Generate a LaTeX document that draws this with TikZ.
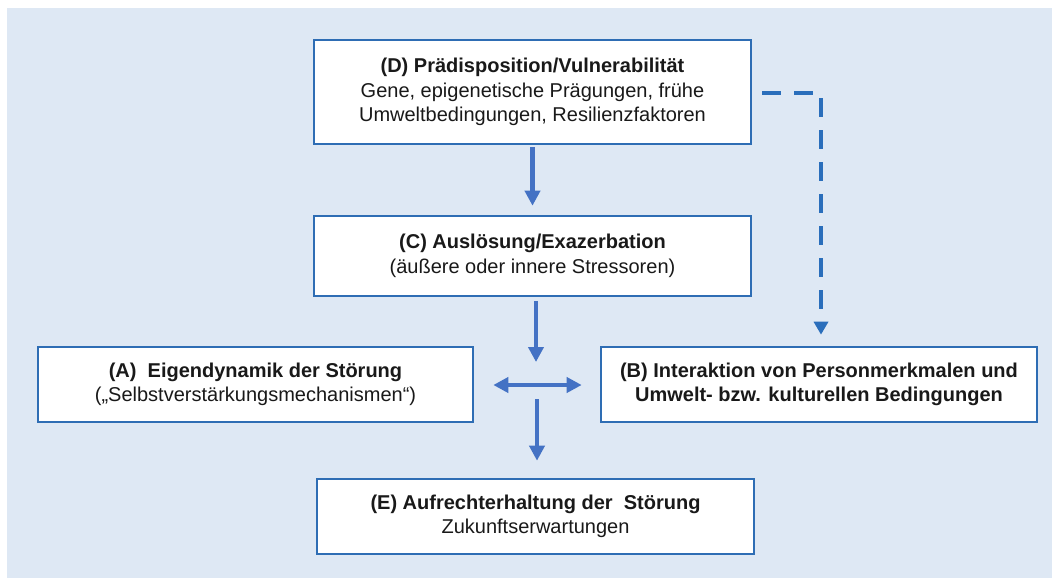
\documentclass[tikz,border=0pt]{standalone}
\usepackage{fontspec}
\setmainfont{Liberation Sans}
\usetikzlibrary{arrows.meta,calc}
\definecolor{bgblue}{HTML}{DEE8F4}
\definecolor{boxblue}{HTML}{2E6DB4}
\definecolor{arrblue}{HTML}{4472C4}
\definecolor{dashblue}{HTML}{2A6EBB}
\begin{document}
\begin{tikzpicture}[x=1pt,y=-1pt,
  box/.style={draw=boxblue,line width=2.6pt,fill=white,inner sep=0pt,
    align=center,font=\fontsize{20}{24.5}\selectfont,text=black!90},
  arr/.style={draw=arrblue,line width=4.8pt,-{Triangle[width=15pt,length=15pt]}},
  dblarr/.style={draw=arrblue,line width=4.8pt,{Triangle[width=15pt,length=15pt]}-{Triangle[width=15pt,length=15pt]}},
  dasharr/.style={draw=dashblue,line width=4.6pt,dash pattern=on 19pt off 13pt,-{Triangle[width=14pt,length=13pt]}}]
\useasboundingbox (0,0) rectangle (1052,578);
\fill[bgblue] (7,8) rectangle (1052,578);
\node[box,minimum width=437pt,minimum height=104pt] (D) at (532.5,92)
  {\textbf{(D) Prädisposition/Vulnerabilität}\\Gene, epigenetische Prägungen, frühe\\Umweltbedingungen, Resilienzfaktoren};
\node[box,minimum width=437pt,minimum height=80pt] (C) at (532.5,256)
  {\textbf{(C) Auslösung/Exazerbation}\\(äußere oder innere Stressoren)};
\node[box,minimum width=435pt,minimum height=75pt] (A) at (255.5,384.5)
  {\textbf{(A)~ Eigendynamik der Störung}\\(„Selbstverstärkungsmechanismen“)};
\node[box,minimum width=436pt,minimum height=75pt] (B) at (819,384.5)
  {\textbf{(B) Interaktion von Personmerkmalen und}\\\textbf{Umwelt- bzw. kulturellen Bedingungen}};
\node[box,minimum width=437pt,minimum height=75pt] (E) at (535.5,516.5)
  {\textbf{(E) Aufrechterhaltung der~ Störung}\\Zukunftserwartungen};
\coordinate (X) at (536,385);
\draw[arr] ([yshift=-2pt]D.south) -- ([yshift=9pt]C.north);
\draw[arr] ($(X |- C.south)+(0,4)$) -- ($(X)+(0,-23)$);
\draw[dblarr] ([xshift=19pt]A.east |- X) -- ([xshift=-18pt]B.west |- X);
\draw[arr] ($(X)+(1,14)$) -- ($(X |- E.north)+(1,-17)$);
\draw[dasharr] ([xshift=10pt,yshift=-1pt]D.east) -| ([xshift=2pt,yshift=11pt]B.north);
\end{tikzpicture}
\end{document}
